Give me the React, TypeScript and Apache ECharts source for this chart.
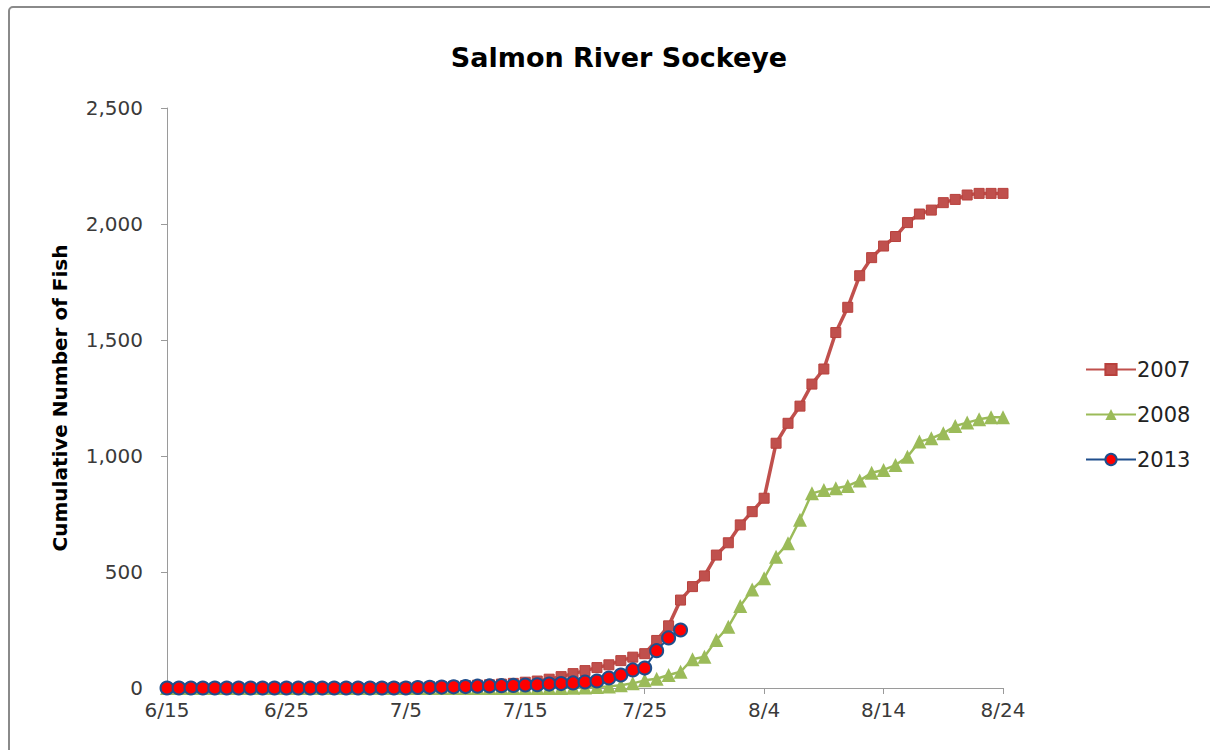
import React, { useEffect, useRef } from "react";
import * as echarts from "echarts";

const START_MONTH = 6;
const START_DAY = 15;
const DAY_COUNT = 71;

const tickLabels = ["6/15", "6/25", "7/5", "7/15", "7/25", "8/4", "8/14", "8/24"];

const series2007 = [
  0, 0, 0, 0, 0, 0, 0, 0, 0, 0,
  0, 0, 0, 0, 0, 0, 0, 0, 1, 2,
  3, 4, 5, 6, 8, 10, 12, 14, 17, 20,
  25, 30, 38, 49, 62, 75, 88, 100, 118, 133,
  148, 205, 268, 379, 437, 483, 573, 626, 703, 760,
  818, 1055, 1141, 1215, 1310, 1375, 1532, 1641, 1777, 1855,
  1905, 1946, 2006, 2043, 2060, 2092, 2106, 2125, 2132, 2132,
  2132,
];

const series2008 = [
  0, 0, 0, 0, 0, 0, 0, 0, 0, 0,
  0, 0, 0, 0, 0, 0, 0, 0, 0, 0,
  0, 0, 0, 0, 0, 0, 0, 0, 0, 0,
  0, 0, 0, 0, 1, 2, 4, 7, 12, 20,
  33, 40, 56, 70, 124, 135, 207, 264, 353, 425,
  473, 566, 624, 725, 839, 853, 861, 871, 894, 928,
  940, 961, 997, 1062, 1076, 1098, 1129, 1144, 1158, 1167,
  1167,
];

const series2013 = [
  0, 0, 0, 0, 0, 0, 0, 0, 0, 0,
  0, 0, 0, 0, 0, 0, 0, 0, 0, 0,
  0, 2, 3, 4, 5, 6, 8, 9, 10, 11,
  13, 14, 17, 19, 22, 26, 30, 43, 56, 78,
  86, 161, 216, 250,
];

function buildCategories(): string[] {
  const out: string[] = [];
  const d = new Date(2013, START_MONTH - 1, START_DAY);
  for (let i = 0; i < DAY_COUNT; i++) {
    out.push(`${d.getMonth() + 1}/${d.getDate()}`);
    d.setDate(d.getDate() + 1);
  }
  return out;
}

const FONT = "'DejaVu Sans', sans-serif";

export default function App() {
  const ref = useRef<HTMLDivElement>(null);
  useEffect(() => {
    if (!ref.current) return;
    const chart = echarts.init(ref.current, undefined, { renderer: "svg" });
    const categories = buildCategories();
    chart.setOption({
      animation: false,
      backgroundColor: "#ffffff",
      textStyle: { fontFamily: FONT },
      title: {
        text: "Salmon River Sockeye",
        left: 614,
        top: 39,
        textAlign: "center",
        textStyle: { fontFamily: FONT, fontWeight: "bold", fontSize: 27, color: "#000" },
      },
      graphic: [
        {
          type: "rect",
          shape: { x: 9, y: 7, width: 1300, height: 900, r: 4 },
          style: { fill: "none", stroke: "#8a8a8a", lineWidth: 2 },
          silent: true,
        },
      ],
      legend: {
        orient: "vertical",
        left: 1080,
        top: 354,
        itemWidth: 50,
        itemHeight: 14,
        itemGap: 24,
        textStyle: { fontFamily: FONT, fontSize: 21, color: "#222", padding: [0, 0, 0, -4] },
        data: ["2007", "2008", "2013"],
      },
      grid: { left: 167, right: 207, top: 108, bottom: 62, containLabel: false },
      xAxis: {
        type: "category",
        data: categories,
        boundaryGap: false,
        axisLine: { lineStyle: { color: "#9a9a9a", width: 1 } },
        axisTick: {
          show: true,
          interval: 9,
          length: 6,
          lineStyle: { color: "#9a9a9a" },
        },
        axisLabel: {
          interval: (idx: number, val: string) => tickLabels.indexOf(val) >= 0,
          margin: 12,
          fontFamily: FONT,
          fontSize: 20,
          color: "#3a3a3a",
        },
        splitLine: { show: false },
      },
      yAxis: {
        type: "value",
        min: 0,
        max: 2500,
        interval: 500,
        name: "Cumulative Number of Fish",
        nameLocation: "middle",
        nameGap: 97,
        nameRotate: 90,
        nameTextStyle: { fontFamily: FONT, fontWeight: "bold", fontSize: 20, color: "#000" },
        axisLine: { show: true, lineStyle: { color: "#9a9a9a", width: 1 } },
        axisTick: { show: true, length: 6, lineStyle: { color: "#9a9a9a" } },
        axisLabel: {
          margin: 24,
          fontFamily: FONT,
          fontSize: 20,
          color: "#3a3a3a",
          formatter: (v: number) => v.toLocaleString("en-US"),
        },
        splitLine: { show: false },
      },
      series: [
        {
          name: "2007",
          type: "line",
          data: series2007,
          symbol: "rect",
          symbolSize: 10,
          showSymbol: true,
          showAllSymbol: true,
          lineStyle: { color: "#C0504D", width: 3.5 },
          itemStyle: { color: "#C0504D", borderColor: "#B8403C", borderWidth: 1 },
          z: 2,
        },
        {
          name: "2008",
          type: "line",
          data: series2008,
          symbol: "triangle",
          symbolSize: 14,
          showSymbol: true,
          showAllSymbol: true,
          lineStyle: { color: "#9BBB59", width: 2.5 },
          itemStyle: { color: "#9BBB59", borderColor: "#9BBB59", borderWidth: 0 },
          z: 3,
        },
        {
          name: "2013",
          type: "line",
          data: series2013,
          symbol: "circle",
          symbolSize: 13,
          showSymbol: true,
          showAllSymbol: true,
          lineStyle: { color: "#1F4E8C", width: 2 },
          itemStyle: { color: "#FF0000", borderColor: "#1F4E8C", borderWidth: 2 },
          z: 4,
        },
      ],
    });
    return () => chart.dispose();
  }, []);
  return (
    <div
      ref={ref}
      style={{ position: "fixed", left: 0, top: 0, width: 1210, height: 750 }}
    />
  );
}
